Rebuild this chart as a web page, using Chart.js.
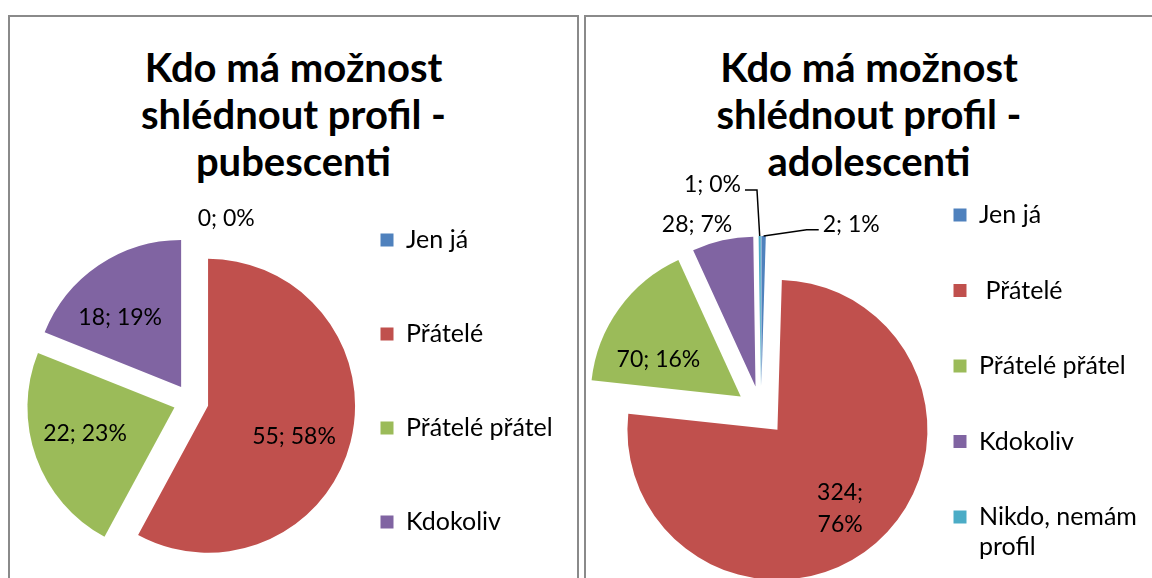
<!DOCTYPE html>
<html>
<head>
<meta charset="utf-8">
<title>Kdo má možnost shlédnout profil</title>
<script src="https://cdn.jsdelivr.net/npm/chart.js"></script>
<style>
  html, body { margin: 0; padding: 0; background: #fff; overflow: hidden; }
  body { width: 1152px; height: 578px; position: relative; }
  .panel { position: absolute; top: 15px; height: 640px; border: 2px solid #8a8a8a; box-sizing: border-box; }
  #panelLeft { left: 8px; width: 571px; }
  #panelRight { left: 584px; width: 580px; }
  .title { position: absolute; top: 44px; font: bold 40px Lato; line-height: 47px; text-align: center; color: #000; }
  #titleLeft { left: 8px; width: 571px; }
  #titleRight { left: 584px; width: 570px; }
  canvas { position: absolute; top: 17px; }
  #pub { left: 10px; }
  #ado { left: 586px; }
</style>
</head>
<body>
<div class="panel" id="panelLeft"></div>
<div class="panel" id="panelRight"></div>
<div class="title" id="titleLeft">Kdo má možnost<br>shlédnout profil -<br>pubescenti</div>
<div class="title" id="titleRight">Kdo má možnost<br>shlédnout profil -<br>adolescenti</div>
<canvas id="pub" width="567" height="629"></canvas>
<canvas id="ado" width="562" height="654"></canvas>
<script>
// pubescenti
var pubLabels = ['Jen já', 'Přátelé', 'Přátelé přátel', 'Kdokoliv'];
var pubValues = [0, 55, 22, 18];
var pubPercents = [0, 58, 23, 19];

// adolescenti
var adoLabels = ['Jen já', ' Přátelé', 'Přátelé přátel', 'Kdokoliv', ['Nikdo, nemám', 'profil']];
var adoValues = [2, 324, 70, 28, 1];
var adoPercents = [1, 76, 16, 7, 0];

var colors = ['#4F81BD', '#C0504D', '#9BBB59', '#8064A2', '#4BACC6'];
var labelSize = 23;
var legendSize = 25;

// slices pulled out like excel + labels "value; percent"
var excelPie = {
  id: 'excelPie',
  beforeDatasetDraw: function(chart, args, opts) {
    var ctx = chart.ctx;
    args.meta.data.forEach(function(arc) {
      var mid = (arc.startAngle + arc.endAngle) / 2;
      ctx.save();
      ctx.translate(Math.cos(mid) * opts.explode, Math.sin(mid) * opts.explode);
      arc.draw(ctx);
      ctx.restore();
    });
    return false;
  },
  afterDatasetsDraw: function(chart, args, opts) {
    var ctx = chart.ctx;
    var meta = chart.getDatasetMeta(0);
    var values = chart.data.datasets[0].data;
    ctx.save();
    ctx.font = labelSize + 'px Lato';
    ctx.fillStyle = '#000';
    ctx.strokeStyle = '#000';
    ctx.lineWidth = 1.5;
    ctx.textAlign = 'center';
    ctx.textBaseline = 'middle';
    meta.data.forEach(function(arc, i) {
      var spot = opts.spots[i];
      var mid = (arc.startAngle + arc.endAngle) / 2;
      var cx = arc.x + Math.cos(mid) * opts.explode;
      var cy = arc.y + Math.sin(mid) * opts.explode;
      var a = mid + spot.shift * Math.PI / 180;
      var x = cx + Math.cos(a) * arc.outerRadius * spot.dist;
      var y = cy + Math.sin(a) * arc.outerRadius * spot.dist;
      var text = values[i] + '; ' + opts.percents[i] + '%';
      if (spot.wrap) {
        ctx.fillText(values[i] + ';', x, y - 16);
        ctx.fillText(opts.percents[i] + '%', x, y + 16);
      } else {
        ctx.fillText(text, x, y);
      }
      if (spot.leader) {
        var px = cx + Math.cos(mid) * arc.outerRadius;
        var py = cy + Math.sin(mid) * arc.outerRadius;
        var side = px > x ? 1 : -1;
        var sx = x + side * (ctx.measureText(text).width / 2 + 4);
        ctx.beginPath();
        ctx.moveTo(sx, y + 5);
        ctx.lineTo(sx + side * 12, y + 5);
        ctx.lineTo(px, py);
        ctx.stroke();
      }
    });
    ctx.restore();
  }
};

// width the legend box needs for its longest label
function legendWidth(labels, pad) {
  var ctx = document.createElement('canvas').getContext('2d');
  ctx.font = legendSize + 'px Lato';
  var w = 0;
  labels.forEach(function(l) {
    [].concat(l).forEach(function(t) { w = Math.max(w, ctx.measureText(t).width); });
  });
  return pad + 13 + legendSize / 2 + w + 2;
}

function printPie(id, labels, values, percents, radius, explode, spots, legendPad, legendLeft, padding) {
  var canvas = document.getElementById(id);
  var legW = legendWidth(labels, legendPad);
  padding.right = canvas.width - legendLeft - legW;
  return new Chart(canvas, {
    type: 'pie',
    data: {
      labels: labels,
      datasets: [{
        data: values,
        backgroundColor: colors.slice(0, values.length),
        borderWidth: 0
      }]
    },
    options: {
      responsive: false,
      animation: false,
      radius: radius,
      layout: { padding: padding },
      plugins: {
        legend: {
          position: 'right',
          align: 'start',
          maxWidth: legW,
          labels: {
            boxWidth: 13,
            boxHeight: 13,
            padding: legendPad,
            color: '#000',
            font: { family: 'Lato', size: legendSize, lineHeight: 1.2 }
          }
        },
        tooltip: { enabled: false },
        excelPie: { explode: explode, spots: spots, percents: percents }
      }
    },
    plugins: [excelPie]
  });
}

printPie('pub', pubLabels, pubValues, pubPercents, 147, 17.6, [
  { dist: 1.15, shift: 12 },
  { dist: 0.62, shift: 5.2 },
  { dist: 0.633, shift: 3.9 },
  { dist: 0.627, shift: -7.3 }
], 69, 301.5, { left: 60.5, top: 141.5, bottom: 1.5 });

printPie('ado', adoLabels, adoValues, adoPercents, 150, 25, [
  { dist: 1.23, shift: 28.3, leader: true },
  { dist: 0.673, shift: 2.7, wrap: true },
  { dist: 0.6, shift: -11.9 },
  { dist: 1.146, shift: -7.2 },
  { dist: 1.378, shift: -13.1, leader: true }
], 50.5, 317, { left: 33, top: 135, bottom: 1 });
</script>
</body>
</html>
